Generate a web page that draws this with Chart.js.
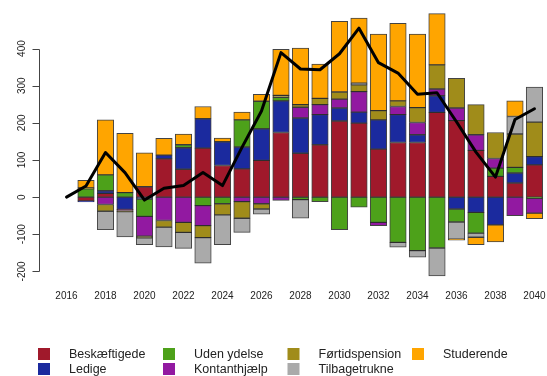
<!DOCTYPE html>
<html>
<head>
<meta charset="utf-8">
<script src="https://cdn.jsdelivr.net/npm/chart.js@4"></script>
<style>
  html, body { margin: 0; padding: 0; background: #fff; }
  canvas { display: block; }
</style>
</head>
<body>
<canvas id="c" width="547" height="376"></canvas>
<script>
// Years on the horizontal axis
const years = [2016, 2017, 2018, 2019, 2020, 2021, 2022, 2023, 2024, 2025, 2026, 2027, 2028,
               2029, 2030, 2031, 2032, 2033, 2034, 2035, 2036, 2037, 2038, 2039, 2040];
const yearTicks = [2016, 2018, 2020, 2022, 2024, 2026, 2028, 2030, 2032, 2034, 2036, 2038, 2040];
const valueTicks = [-200, -100, 0, 100, 200, 300, 400];

// Change per group (thousand persons), one value per year
const beskaeftigede = [0, -10, 10, 0, 28, 103, 75, 132, 85, 76, 99, 174, 118, 141, 205, 199, 129, 147, 147, 228, 206, 126, 56, 38, 87];
const ledige        = [0, -3, 7, -33, -5, 10, 58, 79, 64, 59, 85, 85, 95, 81, 35, 30, 79, 75, 21, 45, -32, -41, -75, 27, 22];
const udenYdelse    = [0, 22, 43, 12, -47, 0, 8, -23, -18, 73, 74, 10, -7, -12, -88, -27, -68, -122, -144, -137, -35, -56, 22, 15, -3];
const kontanthjaelp = [0, 0, -20, -3, -53, -63, -68, -54, 0, -12, -18, -9, 29, 27, 24, 55, -9, 22, 33, 18, 34, 42, 26, -50, -40];
const foertid       = [0, 3, -18, -3, -5, -18, -27, -32, -30, -45, -14, 5, 7, 17, 19, 18, 25, 15, 40, 65, 80, 81, 70, 90, 93];
const tilbagetrukne = [0, 0, -50, -68, -18, -53, -43, -69, -80, -38, -14, 0, -50, 0, 0, 5, 0, -13, -18, -75, -46, -11, 0, 47, 94];
const studerende    = [0, 20, 148, 160, 91, 45, 29, 33, 10, 21, 19, 124, 152, 92, 190, 175, 206, 209, 198, 138, -3, -20, -46, 42, -15];

// Net total per year
const total = [0, 30, 120, 66, -8, 24, 31, 66, 31, 134, 232, 389, 345, 343, 386, 455, 362, 334, 277, 281, 203, 121, 54, 209, 238];

const groups = [
  { label: 'Beskæftigede',   values: beskaeftigede, color: '#A0192B' },
  { label: 'Ledige',         values: ledige,        color: '#1B2A9E' },
  { label: 'Uden ydelse',    values: udenYdelse,    color: '#4DA11A' },
  { label: 'Kontanthjælp',   values: kontanthjaelp, color: '#9219A1' },
  { label: 'Førtidspension', values: foertid,       color: '#A08C1A' },
  { label: 'Tilbagetrukne',  values: tilbagetrukne, color: '#AAAAAA' },
  { label: 'Studerende',     values: studerende,    color: '#FFA500' }
];

const FONT = '"Liberation Sans", Arial, Helvetica, sans-serif';
const toPoints = arr => years.map((yr, i) => ({ x: yr, y: arr[i] }));

const datasets = groups.map((g, k) => ({
  type: 'bar',
  label: g.label,
  data: toPoints(g.values),
  backgroundColor: g.color,
  borderColor: 'rgba(20,20,20,0.8)',
  borderWidth: 1,
  borderSkipped: false,
  barThickness: 16.5,
  order: k + 1
}));

datasets.push({
  type: 'line',
  label: 'I alt',
  data: toPoints(total),
  borderColor: '#000',
  borderWidth: 3,
  borderJoinStyle: 'round',
  borderCapStyle: 'round',
  pointRadius: 0,
  tension: 0,
  fill: false,
  order: 0
});

// R-style value axis: line only spans the tick range, labels rotated
const valueAxisPlugin = {
  id: 'valueAxis',
  afterDraw(chart) {
    const y = chart.scales.y;
    const ctx = chart.ctx;
    const ax = chart.chartArea.left + 0.5;
    ctx.save();
    ctx.strokeStyle = '#444';
    ctx.lineWidth = 1;
    ctx.beginPath();
    ctx.moveTo(ax, Math.round(y.getPixelForValue(valueTicks[valueTicks.length - 1])) + 0.5);
    ctx.lineTo(ax, Math.round(y.getPixelForValue(valueTicks[0])) + 0.5);
    valueTicks.forEach(v => {
      const py = Math.round(y.getPixelForValue(v)) + 0.5;
      ctx.moveTo(ax, py);
      ctx.lineTo(ax - 7, py);
    });
    ctx.stroke();
    ctx.fillStyle = '#222';
    ctx.font = '10px ' + FONT;
    ctx.textAlign = 'center';
    ctx.textBaseline = 'middle';
    valueTicks.forEach(v => {
      ctx.save();
      ctx.translate(22, y.getPixelForValue(v));
      ctx.rotate(-Math.PI / 2);
      ctx.fillText(String(v), 0, 0);
      ctx.restore();
    });
    ctx.restore();
  }
};

// Four-column legend below the plot, filled column by column
const gridLegendPlugin = {
  id: 'gridLegend',
  afterDraw(chart) {
    const ctx = chart.ctx;
    const colX = [38, 163, 287.5, 412];
    const rowY = [354, 369];
    ctx.save();
    ctx.font = '12.5px ' + FONT;
    ctx.textAlign = 'left';
    ctx.textBaseline = 'middle';
    chart.data.datasets.forEach((ds, i) => {
      if (ds.type !== 'bar') return;
      const col = Math.floor(i / 2), row = i % 2;
      const x = colX[col], yc = rowY[row];
      ctx.fillStyle = ds.backgroundColor;
      ctx.fillRect(x, yc - 6, 12, 12);
      ctx.fillStyle = '#222';
      ctx.fillText(ds.label, x + 31, yc + 0.5);
    });
    ctx.restore();
  }
};

new Chart(document.getElementById('c'), {
  data: { datasets },
  plugins: [valueAxisPlugin, gridLegendPlugin],
  options: {
    responsive: false,
    animation: false,
    devicePixelRatio: 1,
    layout: { padding: { top: 4, right: 2, bottom: 72, left: 0 } },
    plugins: { legend: { display: false }, tooltip: { enabled: false } },
    scales: {
      x: {
        type: 'linear',
        stacked: true,
        offset: false,
        min: 2014.59,
        max: 2040.54,
        grid: { display: false, drawTicks: false },
        border: { display: false },
        ticks: {
          padding: 6,
          color: '#222',
          font: { family: FONT, size: 10 },
          maxRotation: 0,
          callback: v => String(v)
        },
        afterBuildTicks: s => { s.ticks = yearTicks.map(v => ({ value: v })); },
        afterFit: s => { s.height = 20; s.paddingLeft = 0; s.paddingRight = 0; }
      },
      y: {
        type: 'linear',
        stacked: true,
        min: -234,
        max: 520,
        grid: { display: false, drawTicks: false },
        border: { display: false },
        ticks: { display: false },
        afterBuildTicks: s => { s.ticks = valueTicks.map(v => ({ value: v })); },
        afterFit: s => { s.width = 39; s.paddingTop = 0; s.paddingBottom = 0; }
      }
    }
  }
});
</script>
</body>
</html>
